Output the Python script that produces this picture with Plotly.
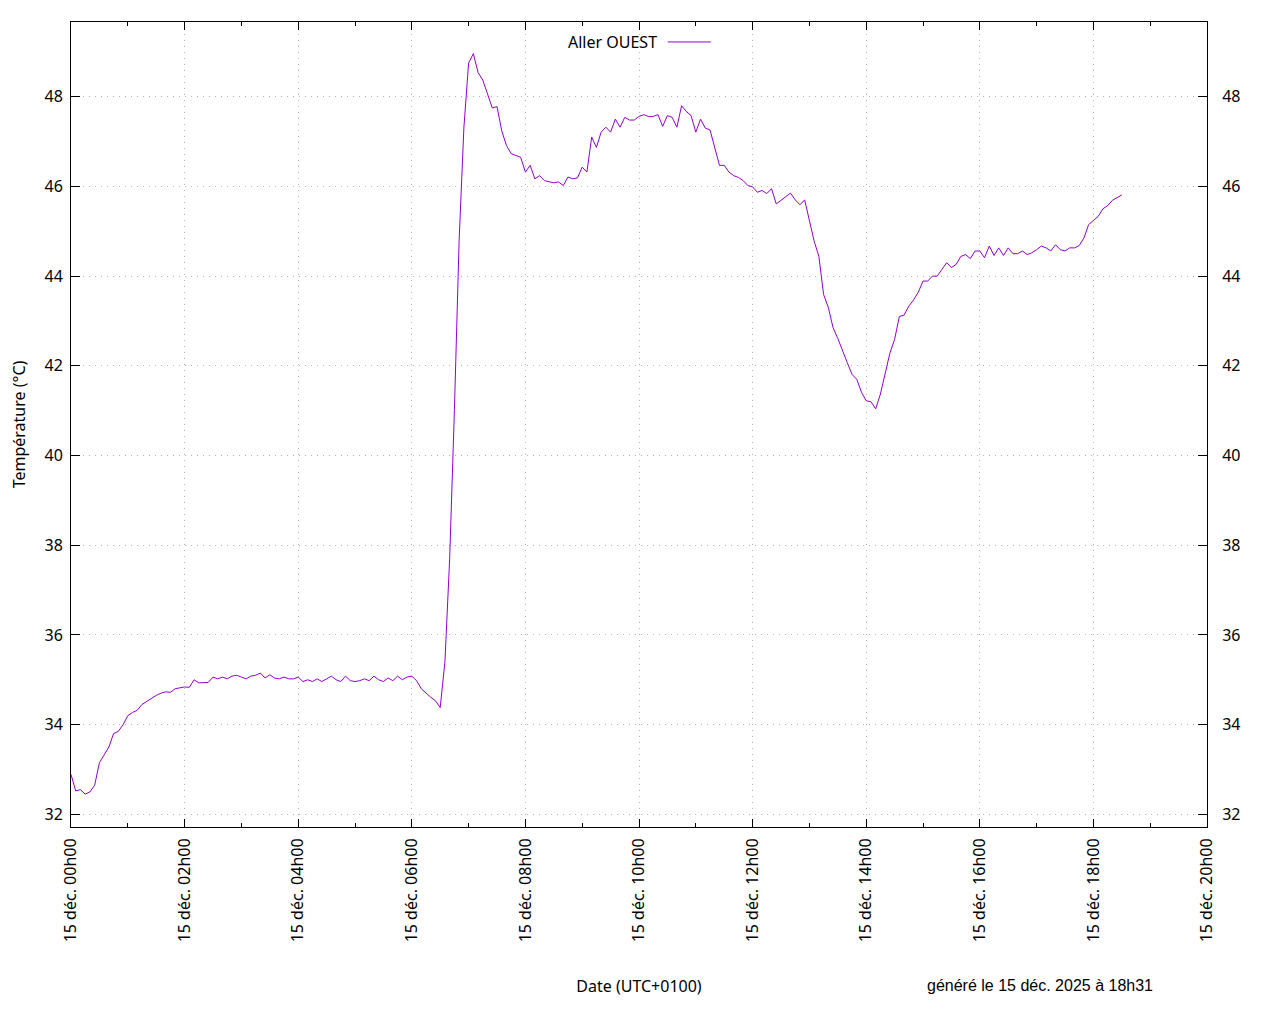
import pandas as pd
import plotly.graph_objects as go

# Aller OUEST temperature (°C), one reading every 5 minutes from 15 déc. 2025 00h00 to 18h30
START = "2025-12-15 00:00"
STEP = "5min"
temp_aller_ouest = [
    32.89, 32.52, 32.55, 32.45, 32.50, 32.65, 33.15, 33.33, 33.50, 33.80, 33.85, 34.00,  # 0h
    34.20, 34.27, 34.32, 34.45, 34.52, 34.60, 34.65, 34.70, 34.73, 34.72, 34.80, 34.82,  # 1h
    34.84, 34.83, 35.00, 34.93, 34.94, 34.94, 35.06, 35.02, 35.06, 35.02, 35.08, 35.10,  # 2h
    35.06, 35.02, 35.08, 35.10, 35.15, 35.04, 35.11, 35.04, 35.02, 35.06, 35.02, 35.02,  # 3h
    35.06, 34.96, 35.00, 34.96, 35.02, 34.96, 35.02, 35.08, 35.00, 34.96, 35.08, 34.98,  # 4h
    34.96, 34.98, 35.02, 34.98, 35.08, 35.00, 34.96, 35.04, 34.98, 35.08, 35.00, 35.06,  # 5h
    35.08, 34.98, 34.80, 34.70, 34.61, 34.53, 34.38, 35.40, 37.70, 41.00, 44.80, 47.30,  # 6h
    48.75, 48.96, 48.54, 48.37, 48.06, 47.75, 47.78, 47.24, 46.91, 46.73, 46.69, 46.65,  # 7h
    46.32, 46.47, 46.17, 46.24, 46.13, 46.10, 46.08, 46.10, 46.02, 46.21, 46.17, 46.19,  # 8h
    46.43, 46.32, 47.10, 46.87, 47.21, 47.32, 47.21, 47.50, 47.32, 47.54, 47.48, 47.48,  # 9h
    47.56, 47.60, 47.56, 47.56, 47.60, 47.34, 47.58, 47.54, 47.32, 47.80, 47.67, 47.58,  # 10h
    47.21, 47.50, 47.30, 47.26, 46.87, 46.47, 46.47, 46.32, 46.24, 46.20, 46.13, 46.02,  # 11h
    45.99, 45.87, 45.91, 45.84, 45.95, 45.61, 45.69, 45.78, 45.85, 45.70, 45.59, 45.70,  # 12h
    45.22, 44.78, 44.44, 43.59, 43.30, 42.85, 42.61, 42.36, 42.07, 41.81, 41.70, 41.41,  # 13h
    41.22, 41.20, 41.04, 41.37, 41.81, 42.28, 42.59, 43.10, 43.13, 43.33, 43.47, 43.64,  # 14h
    43.89, 43.89, 44.00, 44.00, 44.15, 44.30, 44.19, 44.26, 44.44, 44.48, 44.39, 44.56,  # 15h
    44.56, 44.41, 44.67, 44.46, 44.63, 44.46, 44.63, 44.50, 44.50, 44.56, 44.48, 44.52,  # 16h
    44.59, 44.67, 44.63, 44.56, 44.70, 44.59, 44.56, 44.63, 44.63, 44.68, 44.85, 45.15,  # 17h
    45.24, 45.33, 45.50, 45.57, 45.69, 45.76, 45.81,                                      # 18h
]
times = pd.date_range(START, periods=len(temp_aller_ouest), freq=STEP)

series_name = "Aller OUEST"
x_range = ["2025-12-15 00:00", "2025-12-15 20:00"]
y_range = [31.717, 49.666]
y_ticks = [32, 34, 36, 38, 40, 42, 44, 46, 48]
y_title = "Température (°C)"
x_title = "Date (UTC+0100)"
footer = "généré le 15 déc. 2025 à 18h31"

LINE = "#9400d3"
FONT = "Noto Sans"
FS = 16
GRID = "#b4b4b4"

fig = go.Figure()
fig.add_trace(go.Scatter(x=times, y=temp_aller_ouest, mode="lines", name=series_name,
                         line=dict(color=LINE, width=1), showlegend=False))
# empty trace so that the mirrored right-hand axis (with labels) is drawn
fig.add_trace(go.Scatter(x=[], y=[], yaxis="y2", showlegend=False, hoverinfo="skip"))

axis_common = dict(showline=True, linecolor="black", linewidth=1, ticks="inside",
                   tickcolor="black", tickwidth=1, zeroline=False, automargin=False,
                   tickfont=dict(family=FONT, size=FS, color="black"),
                   gridcolor=GRID, gridwidth=1, griddash="1px,5px")

# the page body has an 8px margin, so the figure is sized/margined to land the
# plot frame at the same place as in the reference window
fig.update_layout(
    width=1264, height=1000,
    margin=dict(l=63, r=65, t=14, b=181),
    paper_bgcolor="white", plot_bgcolor="white",
    font=dict(family=FONT, size=FS, color="black"),
    xaxis=dict(type="date", range=x_range, dtick=7200000, tick0="2025-12-15 00:00",
               tickformat="%d déc. %Hh%M", tickangle=-90, ticklen=8, mirror="ticks",
               showgrid=True,
               minor=dict(dtick=3600000, ticks="inside", ticklen=4, tickcolor="black", showgrid=False),
               title=dict(text=x_title, font=dict(family=FONT, size=FS), standoff=39),
               ticklabelstandoff=4,
               **axis_common),
    yaxis=dict(range=y_range, tickvals=y_ticks, ticklen=9, mirror=True, showgrid=True,
               title=dict(text=y_title, font=dict(family=FONT, size=FS), standoff=16),
               ticklabelstandoff=4,
               **axis_common),
    yaxis2=dict(range=y_range, tickvals=y_ticks, ticklen=9, overlaying="y", side="right",
                anchor="x", showgrid=False, ticklabelstandoff=11,
                **{k: v for k, v in axis_common.items() if not k.startswith("grid")}),
)

# gnuplot-style key: text followed by a line sample
fig.add_annotation(x=0.5175, y=0.9752, xref="paper", yref="paper", text=series_name,
                   showarrow=False, xanchor="right", yanchor="middle",
                   font=dict(family=FONT, size=FS, color="black"))
fig.add_shape(type="line", xref="paper", yref="paper", x0=0.5253, x1=0.5631,
              y0=0.9752, y1=0.9752, line=dict(color=LINE, width=1))

fig.add_annotation(x=0.853, y=-0.197, xref="paper", yref="paper", text=footer,
                   showarrow=False, xanchor="center", yanchor="middle",
                   font=dict(family="Liberation Sans", size=16, color="black"))

fig.write_html("out.html")
